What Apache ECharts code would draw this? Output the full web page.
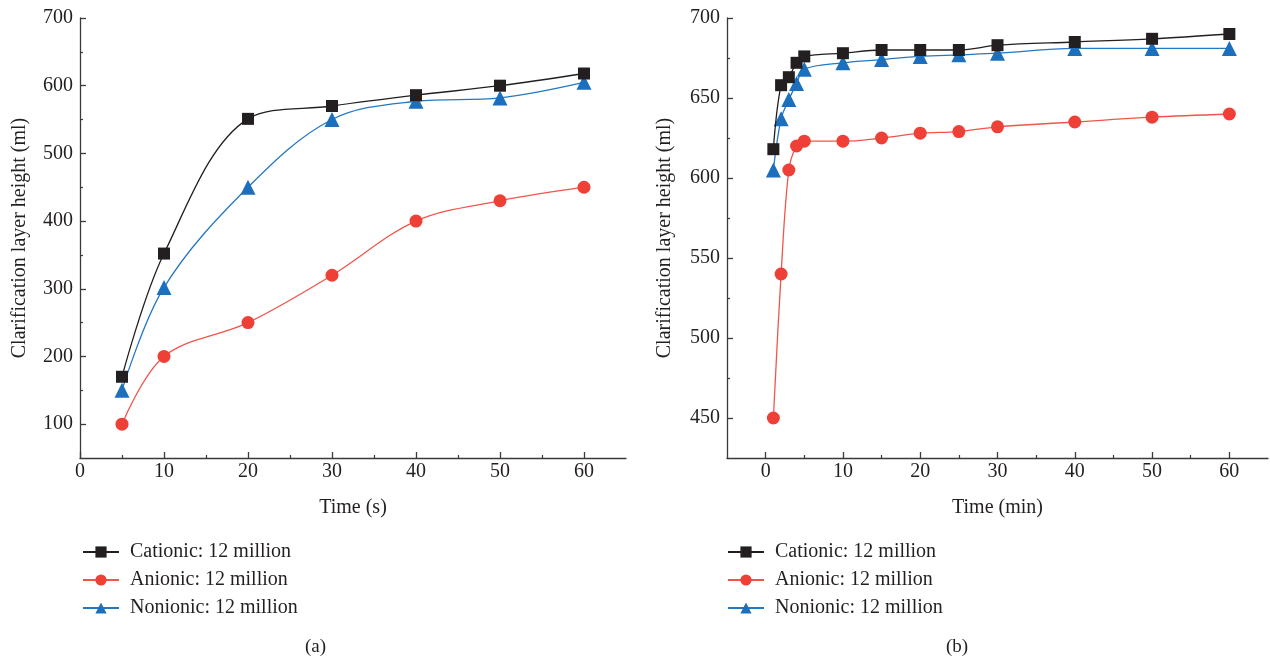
<!DOCTYPE html>
<html><head><meta charset="utf-8">
<script src="https://cdn.jsdelivr.net/npm/echarts@6/dist/echarts.min.js"></script>
<style>html,body{margin:0;padding:0;background:#fff}#c{width:1270px;height:658px}</style>
</head><body><div id="c"></div>
<script>
// ---- Data: panel (a), time in s ----
const timeA = [5, 10, 20, 30, 40, 50, 60];
const cationicA = [170, 352, 551, 570, 586, 600, 618];
const anionicA = [100, 200, 250, 320, 400, 430, 450];
const nonionicA = [150, 302, 450, 550, 577, 582, 605];
// ---- Data: panel (b), time in min ----
const timeB = [1, 2, 3, 4, 5, 10, 15, 20, 25, 30, 40, 50, 60];
const cationicB = [618, 658, 663, 672, 676, 678, 680, 680, 680, 683, 685, 687, 690];
const anionicB = [450, 540, 605, 620, 623, 623, 625, 628, 629, 632, 635, 638, 640];
const nonionicB = [605, 637, 649, 659, 668, 672, 674, 676, 677, 678, 681, 681, 681];
// ---- Tick labels ----
const xTicksA = [0, 10, 20, 30, 40, 50, 60];
const xMinorA = [5, 15, 25, 35, 45, 55];
const yTicksA = [100, 200, 300, 400, 500, 600, 700];
const yMinorA = [150, 250, 350, 450, 550, 650];
const xTicksB = [0, 10, 20, 30, 40, 50, 60];
const xMinorB = [5, 15, 25, 35, 45, 55];
const yTicksB = [450, 500, 550, 600, 650, 700];
const yMinorB = [475, 525, 575, 625, 675];
const names = ['Cationic: 12 million', 'Anionic: 12 million', 'Nonionic: 12 million'];

const FONT = '"Liberation Serif", "DejaVu Serif", serif';
const AX = '#3a3a3a';
const colors = { c: '#231f20', a: '#ee4036', n: '#1b6fbd' };
const lineColors = { c: '#231f20', a: '#f0554b', n: '#2378c4' };

function pairs(xs, ys) { return xs.map((x, i) => [x, ys[i]]); }

function mainX(grid, min, max, ticks, name) {
  return {
    type: 'value', gridIndex: grid, min, max, position: 'bottom',
    name, nameLocation: 'middle', nameGap: 40,
    nameTextStyle: { fontFamily: FONT, fontSize: 20, color: '#231f20' },
    axisLine: { show: true, onZero: false, lineStyle: { color: AX, width: 1.3 } },
    axisTick: { show: true, inside: true, length: 6, customValues: ticks, lineStyle: { color: AX, width: 1.3 } },
    axisLabel: { customValues: ticks, margin: 4, color: '#231f20', fontFamily: FONT, fontSize: 20 },
    splitLine: { show: false }
  };
}
function minorX(grid, min, max, ticks) {
  return {
    type: 'value', gridIndex: grid, min, max, position: 'bottom',
    axisLine: { show: false, onZero: false },
    axisTick: { show: true, inside: true, length: 3, customValues: ticks, lineStyle: { color: AX, width: 1.2 } },
    axisLabel: { show: false }, splitLine: { show: false }
  };
}
function mainY(grid, min, max, ticks, name, gap) {
  return {
    type: 'value', gridIndex: grid, min, max, position: 'left',
    name, nameLocation: 'middle', nameGap: gap,
    nameTextStyle: { fontFamily: FONT, fontSize: 20, color: '#231f20' },
    axisLine: { show: true, onZero: false, lineStyle: { color: AX, width: 1.3 } },
    axisTick: { show: true, inside: true, length: 6, customValues: ticks, lineStyle: { color: AX, width: 1.3 } },
    axisLabel: { customValues: ticks, margin: 7, color: '#231f20', fontFamily: FONT, fontSize: 20 },
    splitLine: { show: false }
  };
}
function minorY(grid, min, max, ticks) {
  return {
    type: 'value', gridIndex: grid, min, max, position: 'left',
    axisLine: { show: false, onZero: false },
    axisTick: { show: true, inside: true, length: 3, customValues: ticks, lineStyle: { color: AX, width: 1.2 } },
    axisLabel: { show: false }, splitLine: { show: false }
  };
}
function ser(name, key, xs, ys, xi, yi, symbol, size) {
  return {
    name, type: 'line', xAxisIndex: xi, yAxisIndex: yi,
    data: pairs(xs, ys), smooth: 0.35,
    symbol, symbolSize: size, showSymbol: true,
    lineStyle: { color: lineColors[key], width: 1.3 },
    itemStyle: { color: colors[key], borderWidth: 0 },
    emphasis: { disabled: true }, z: key === 'c' ? 4 : 3
  };
}

const chart = echarts.init(document.getElementById('c'), null, { renderer: 'canvas' });
const legendBase = {
  orient: 'vertical', top: 542, itemGap: 8, itemWidth: 36, itemHeight: 14, padding: 0,
  data: names, selectedMode: false,
  textStyle: { fontFamily: FONT, fontSize: 20, lineHeight: 18, color: '#231f20', padding: [0, 0, 0, 6] }
};
chart.setOption({
  animation: false,
  backgroundColor: '#fff',
  grid: [
    { left: 80, top: 18, width: 546, height: 440 },
    { left: 727, top: 18, width: 541, height: 440 }
  ],
  xAxis: [
    mainX(0, 0, 65, xTicksA, 'Time (s)'),
    minorX(0, 0, 65, xMinorA),
    mainX(1, -5, 65, xTicksB, 'Time (min)'),
    minorX(1, -5, 65, xMinorB)
  ],
  yAxis: [
    mainY(0, 50, 700, yTicksA, 'Clarification layer height (ml)', 50),
    minorY(0, 50, 700, yMinorA),
    mainY(1, 425, 700, yTicksB, 'Clarification layer height (ml)', 52),
    minorY(1, 425, 700, yMinorB)
  ],
  legend: [
    Object.assign({ left: 82 }, legendBase),
    Object.assign({ left: 727 }, legendBase)
  ],
  graphic: [
    { type: 'text', left: 305, top: 638, style: { text: '(a)', font: '19px ' + FONT, fill: '#231f20' } },
    { type: 'text', left: 946, top: 638, style: { text: '(b)', font: '19px ' + FONT, fill: '#231f20' } }
  ],
  series: [
    ser(names[0], 'c', timeA, cationicA, 0, 0, 'rect', 12),
    ser(names[1], 'a', timeA, anionicA, 0, 0, 'circle', 13),
    ser(names[2], 'n', timeA, nonionicA, 0, 0, 'triangle', 15),
    ser(names[0], 'c', timeB, cationicB, 2, 2, 'rect', 12),
    ser(names[1], 'a', timeB, anionicB, 2, 2, 'circle', 13),
    ser(names[2], 'n', timeB, nonionicB, 2, 2, 'triangle', 15)
  ]
});
</script>
</body></html>
